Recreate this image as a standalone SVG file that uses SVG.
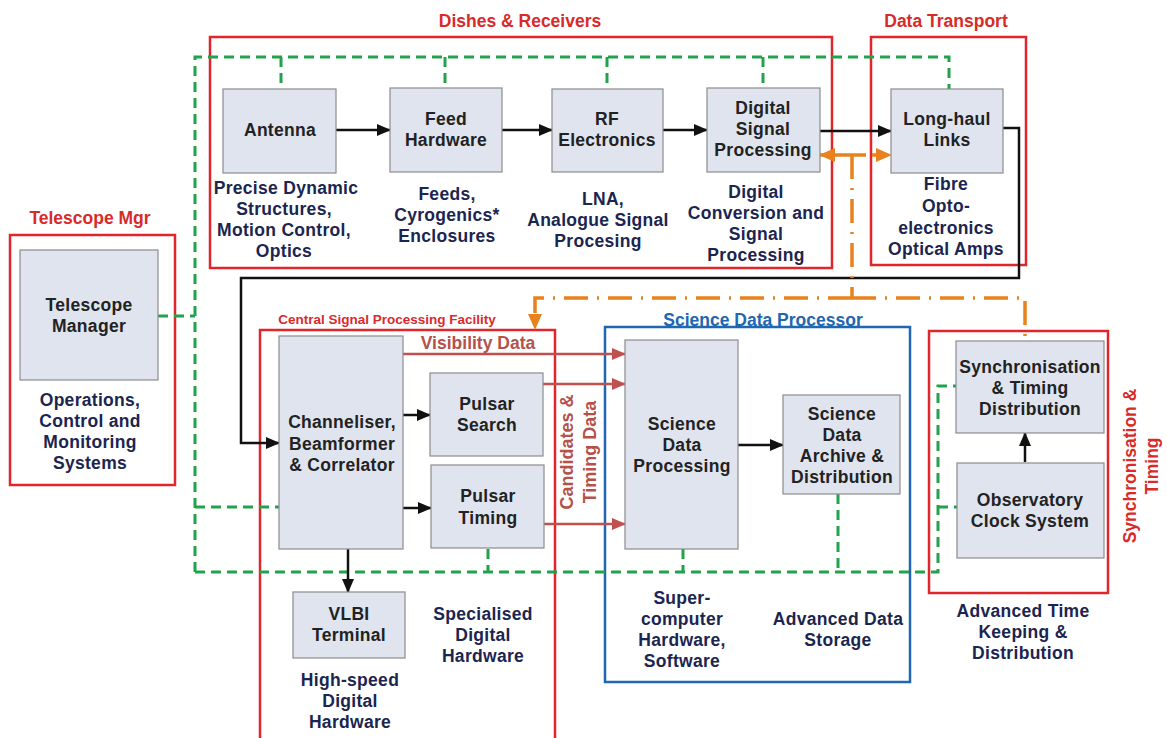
<svg xmlns="http://www.w3.org/2000/svg" width="1167" height="738" viewBox="0 0 1167 738">
<style>
text{font-family:"Liberation Sans",Arial,sans-serif;font-weight:bold;text-anchor:middle}
.node{fill:#dfe4ef;stroke:#8c8c8c;stroke-width:1.2}
.lbl{font-size:17.5px;fill:#222;letter-spacing:0.3px}
.desc{font-size:17.5px;fill:#1b2550;letter-spacing:0.3px}
.grp{fill:none;stroke:#e0262b;stroke-width:2.5}
.ttl{font-size:17.5px;fill:#d92a2a}
.blk{fill:none;stroke:#111;stroke-width:2.5}
.grn{fill:none;stroke:#22a24a;stroke-width:3;stroke-dasharray:10 6}
.org{fill:none;stroke:#e8821e;stroke-width:3.5;stroke-dasharray:24 9 2 9}
.brn{fill:none;stroke:#c0504d;stroke-width:2.5}
</style>
<defs>
<marker id="ab" markerUnits="userSpaceOnUse" markerWidth="14" markerHeight="12" refX="13" refY="6" orient="auto"><path d="M0,0 L14,6 L0,12 z" fill="#111"/></marker>
<marker id="ar" markerUnits="userSpaceOnUse" markerWidth="14" markerHeight="12" refX="13" refY="6" orient="auto"><path d="M0,0 L14,6 L0,12 z" fill="#c0504d"/></marker>
<marker id="ao" markerUnits="userSpaceOnUse" markerWidth="16" markerHeight="14" refX="15" refY="7" orient="auto"><path d="M0,0 L16,7 L0,14 z" fill="#e8821e"/></marker>
</defs>
<rect width="1167" height="738" fill="#fff"/>

<g id="groups">
<rect class="grp" x="210" y="37" width="622" height="231"/>
<text class="ttl" x="520" y="27">Dishes &amp; Receivers</text>
<rect class="grp" x="871" y="37" width="155" height="228"/>
<text class="ttl" x="946" y="27">Data Transport</text>
<rect class="grp" x="10" y="235" width="165" height="250"/>
<text class="ttl" x="90" y="224">Telescope Mgr</text>
<rect class="grp" x="260" y="330" width="295" height="420"/>
<text x="387" y="324" style="font-size:13.5px;fill:#d92a2a">Central Signal Processing Facility</text>
<rect x="605" y="327" width="305" height="355" fill="none" stroke="#2066b0" stroke-width="2.5"/>
<text x="763" y="326" style="font-size:17.5px;fill:#2066b0">Science Data Processor</text>
<rect class="grp" x="929" y="331" width="179" height="262"/>
<text x="1130" y="466" transform="rotate(-90 1130 466)" style="font-size:17.5px;fill:#d92a2a" dy="6">Synchronisation &amp;</text>
<text x="1152" y="466" transform="rotate(-90 1152 466)" style="font-size:17.5px;fill:#d92a2a" dy="6">Timing</text>
</g>

<g id="connectors">
<!-- green control network -->
<path class="grn" d="M195,572 V57 H949 V89"/>
<path class="grn" d="M281,57 V89"/>
<path class="grn" d="M445,57 V88"/>
<path class="grn" d="M607,57 V89"/>
<path class="grn" d="M763,57 V88"/>
<path class="grn" d="M158,316 H195"/>
<path class="grn" d="M195,507 H279"/>
<path class="grn" d="M195,572 H938 V386 H956"/>
<path class="grn" d="M938,507 H957"/>
<path class="grn" d="M488,549 V572"/>
<path class="grn" d="M683,549 V572"/>
<path class="grn" d="M838,494 V572"/>
<!-- black data flow -->
<path class="blk" d="M336,130 H390" marker-end="url(#ab)"/>
<path class="blk" d="M502,130 H552" marker-end="url(#ab)"/>
<path class="blk" d="M663,130 H707" marker-end="url(#ab)"/>
<path class="blk" d="M820,131 H891" marker-end="url(#ab)"/>
<path class="blk" d="M1003,128 H1019 V278 H241 V443 H279" marker-end="url(#ab)"/>
<path class="blk" d="M403,415 H430" marker-end="url(#ab)"/>
<path class="blk" d="M403,508 H431" marker-end="url(#ab)"/>
<path class="blk" d="M348,549 V592" marker-end="url(#ab)"/>
<path class="blk" d="M738,445 H783" marker-end="url(#ab)"/>
<path class="blk" d="M1025,462 V433" marker-end="url(#ab)"/>
<!-- brown science data -->
<path class="brn" d="M403,354 H625" marker-end="url(#ar)"/>
<path class="brn" d="M543,384 H625" marker-end="url(#ar)"/>
<path class="brn" d="M544,524 H625" marker-end="url(#ar)"/>
<!-- orange timing -->
<path class="org" d="M852,155 V298"/>
<path class="org" d="M852,155 H820" style="stroke-dasharray:none" marker-end="url(#ao)"/>
<path class="org" d="M852,155 H891" style="stroke-dasharray:14 6" marker-end="url(#ao)"/>
<path class="org" d="M852,298 H535 V329" marker-end="url(#ao)"/>
<path class="org" d="M852,298 H1025 V341"/>
</g>

<g id="antenna">
<rect class="node" x="223" y="89" width="113" height="84"/>
<text class="lbl" x="280" y="136">Antenna</text>
<text class="desc" x="286" y="194">Precise Dynamic</text>
<text class="desc" x="284" y="215">Structures,</text>
<text class="desc" x="284" y="236">Motion Control,</text>
<text class="desc" x="284" y="257">Optics</text>
</g>
<g id="feed">
<rect class="node" x="390" y="88" width="112" height="84"/>
<text class="lbl" x="446" y="125">Feed</text>
<text class="lbl" x="446" y="146">Hardware</text>
<text class="desc" x="447" y="200">Feeds,</text>
<text class="desc" x="447" y="221">Cyrogenics*</text>
<text class="desc" x="447" y="242">Enclosures</text>
</g>
<g id="rf">
<rect class="node" x="552" y="89" width="111" height="83"/>
<text class="lbl" x="607" y="125">RF</text>
<text class="lbl" x="607" y="146">Electronics</text>
<text class="desc" x="603" y="205">LNA,</text>
<text class="desc" x="598" y="226">Analogue Signal</text>
<text class="desc" x="598" y="247">Procesing</text>
</g>
<g id="dsp">
<rect class="node" x="707" y="88" width="113" height="84"/>
<text class="lbl" x="763" y="114">Digital</text>
<text class="lbl" x="763" y="135">Signal</text>
<text class="lbl" x="763" y="156">Processing</text>
<text class="desc" x="756" y="198">Digital</text>
<text class="desc" x="756" y="219">Conversion and</text>
<text class="desc" x="756" y="240">Signal</text>
<text class="desc" x="756" y="261">Processing</text>
</g>
<g id="longhaul">
<rect class="node" x="891" y="89" width="112" height="84"/>
<text class="lbl" x="947" y="125">Long-haul</text>
<text class="lbl" x="947" y="146">Links</text>
<text class="desc" x="946" y="190">Fibre</text>
<text class="desc" x="946" y="212">Opto-</text>
<text class="desc" x="946" y="234">electronics</text>
<text class="desc" x="946" y="255">Optical Amps</text>
</g>
<g id="telescope-manager">
<rect class="node" x="20" y="250" width="138" height="130"/>
<text class="lbl" x="89" y="311">Telescope</text>
<text class="lbl" x="89" y="332">Manager</text>
<text class="desc" x="90" y="406">Operations,</text>
<text class="desc" x="90" y="427">Control and</text>
<text class="desc" x="90" y="448">Monitoring</text>
<text class="desc" x="90" y="469">Systems</text>
</g>
<g id="channeliser">
<rect class="node" x="279" y="336" width="124" height="213"/>
<text class="lbl" x="342" y="428">Channeliser,</text>
<text class="lbl" x="342" y="450">Beamformer</text>
<text class="lbl" x="342" y="471">&amp; Correlator</text>
</g>
<g id="visibility-label">
<text x="478" y="349" style="font-size:17.5px;fill:#b5514a">Visibility Data</text>
<text x="567" y="452" transform="rotate(-90 567 452)" dy="6" style="font-size:18px;fill:#b5514a">Candidates &amp;</text>
<text x="590" y="452" transform="rotate(-90 590 452)" dy="6" style="font-size:18px;fill:#b5514a">Timing Data</text>
</g>
<g id="pulsar-search">
<rect class="node" x="430" y="373" width="113" height="83"/>
<text class="lbl" x="487" y="410">Pulsar</text>
<text class="lbl" x="487" y="431">Search</text>
</g>
<g id="pulsar-timing">
<rect class="node" x="431" y="465" width="113" height="83"/>
<text class="lbl" x="488" y="502">Pulsar</text>
<text class="lbl" x="488" y="524">Timing</text>
</g>
<g id="vlbi">
<rect class="node" x="293" y="592" width="112" height="66"/>
<text class="lbl" x="349" y="620">VLBI</text>
<text class="lbl" x="349" y="641">Terminal</text>
<text class="desc" x="350" y="686">High-speed</text>
<text class="desc" x="350" y="707">Digital</text>
<text class="desc" x="350" y="728">Hardware</text>
<text class="desc" x="483" y="620">Specialised</text>
<text class="desc" x="483" y="641">Digital</text>
<text class="desc" x="483" y="662">Hardware</text>
</g>
<g id="sdp">
<rect class="node" x="625" y="340" width="113" height="209"/>
<text class="lbl" x="682" y="430">Science</text>
<text class="lbl" x="682" y="451">Data</text>
<text class="lbl" x="682" y="472">Processing</text>
<text class="desc" x="682" y="604">Super-</text>
<text class="desc" x="682" y="625">computer</text>
<text class="desc" x="682" y="646">Hardware,</text>
<text class="desc" x="682" y="667">Software</text>
</g>
<g id="archive">
<rect class="node" x="783" y="395" width="117" height="99"/>
<text class="lbl" x="842" y="420">Science</text>
<text class="lbl" x="842" y="441">Data</text>
<text class="lbl" x="842" y="462">Archive &amp;</text>
<text class="lbl" x="842" y="483">Distribution</text>
<text class="desc" x="838" y="625">Advanced Data</text>
<text class="desc" x="838" y="646">Storage</text>
</g>
<g id="sync">
<rect class="node" x="956" y="341" width="148" height="92"/>
<text class="lbl" x="1030" y="373">Synchronisation</text>
<text class="lbl" x="1030" y="394">&amp; Timing</text>
<text class="lbl" x="1030" y="415">Distribution</text>
</g>
<g id="clock">
<rect class="node" x="957" y="463" width="147" height="95"/>
<text class="lbl" x="1030" y="506">Observatory</text>
<text class="lbl" x="1030" y="527">Clock System</text>
<text class="desc" x="1023" y="617">Advanced Time</text>
<text class="desc" x="1023" y="638">Keeping &amp;</text>
<text class="desc" x="1023" y="659">Distribution</text>
</g>
</svg>
